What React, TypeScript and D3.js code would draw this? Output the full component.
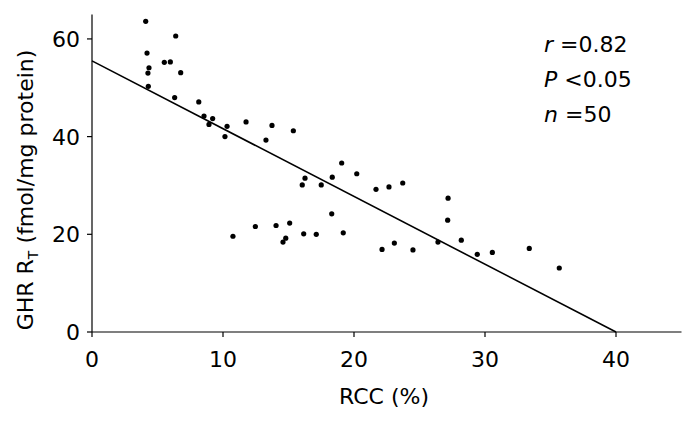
import * as d3 from "d3";

// RCC (%) vs GHR RT (fmol/mg protein)
const RCC = [
  4.1, 6.39, 4.2, 4.35, 4.27, 5.52, 5.98, 6.77, 4.3, 6.31,
  8.15, 8.55, 9.21, 8.93, 10.31, 10.15, 11.76, 13.74, 13.28, 15.37,
  19.06, 20.21, 16.26, 16.05, 18.34, 17.5, 21.68, 22.67, 18.3, 12.47,
  14.05, 15.09, 10.76, 14.79, 14.58, 16.16, 17.12, 19.18, 22.14, 23.08,
  23.72, 27.18, 27.15, 28.19, 24.5, 26.41, 29.41, 30.56, 33.38, 35.67,
];
const GHR = [
  63.6, 60.6, 57.1, 54.1, 53.0, 55.2, 55.3, 53.1, 50.3, 48.0,
  47.1, 44.2, 43.7, 42.5, 42.1, 40.0, 43.0, 42.3, 39.3, 41.2,
  34.6, 32.4, 31.5, 30.1, 31.7, 30.1, 29.2, 29.7, 24.2, 21.6,
  21.8, 22.3, 19.6, 19.2, 18.4, 20.1, 20.0, 20.3, 16.9, 18.2,
  30.5, 27.4, 22.9, 18.8, 16.8, 18.4, 15.9, 16.3, 17.1, 13.1,
];
const FIT = [
  [0, 55.5],
  [40, 0],
];
const X_TICKS = [0, 10, 20, 30, 40];
const Y_TICKS = [0, 20, 40, 60];
const STATS = [
  { sym: "r", rest: " =0.82" },
  { sym: "P", rest: " <0.05" },
  { sym: "n", rest: " =50" },
];

const W = 697;
const H = 422;
const FONT = "'DejaVu Sans', Tahoma, sans-serif";
const FS = 22;

export default function App() {
  const x = d3.scaleLinear().domain([0, 45]).range([92, 681.5]);
  const y = d3.scaleLinear().domain([0, 65]).range([332, 14.5]);
  const line = d3
    .line<number[]>()
    .x((d) => x(d[0]))
    .y((d) => y(d[1]));

  return (
    <svg
      width={W}
      height={H}
      style={{ position: "absolute", left: 0, top: 0, background: "#fff" }}
      fontFamily={FONT}
    >
      {/* axes */}
      <line x1={x(0)} x2={x(45)} y1={y(0)} y2={y(0)} stroke="#000" strokeWidth={1.2} />
      <line x1={x(0)} x2={x(0)} y1={y(0)} y2={y(65)} stroke="#000" strokeWidth={1.2} />

      {X_TICKS.map((t) => (
        <g key={"x" + t}>
          <line x1={x(t)} x2={x(t)} y1={y(0)} y2={y(0) + 5} stroke="#000" strokeWidth={1.2} />
          <text x={x(t)} y={367} textAnchor="middle" fontSize={FS} fill="#000">
            {t}
          </text>
        </g>
      ))}
      {Y_TICKS.map((t) => (
        <g key={"y" + t}>
          <line x1={x(0) - 5} x2={x(0)} y1={y(t)} y2={y(t)} stroke="#000" strokeWidth={1.2} />
          <text x={80} y={y(t) + 8} textAnchor="end" fontSize={FS} fill="#000">
            {t}
          </text>
        </g>
      ))}

      <text x={384} y={404} textAnchor="middle" fontSize={FS} fill="#000">
        RCC (%)
      </text>
      <text
        transform="translate(33,190) rotate(-90)"
        textAnchor="middle"
        fontSize={FS}
        fill="#000"
      >
        GHR R
        <tspan fontSize={14} dy={5}>T</tspan>
        <tspan dy={-5}> (fmol/mg protein)</tspan>
      </text>

      {/* regression line */}
      <path d={line(FIT) ?? ""} fill="none" stroke="#000" strokeWidth={1.6} />

      {RCC.map((v, i) => (
        <circle key={i} cx={x(v)} cy={y(GHR[i])} r={2.6} fill="#000" />
      ))}

      {STATS.map((s, i) => (
        <text key={s.sym} x={544} y={52 + i * 35} fontSize={FS} fill="#000">
          <tspan fontStyle="italic">{s.sym}</tspan>
          {s.rest}
        </text>
      ))}
    </svg>
  );
}
